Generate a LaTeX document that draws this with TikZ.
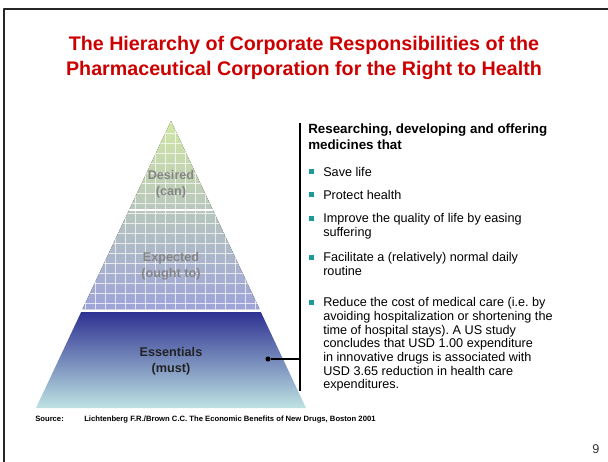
\documentclass[tikz,border=0pt]{standalone}
\usepackage{fontspec}
\setmainfont{Liberation Sans}
\usepackage{tikz}
\usetikzlibrary{calc,positioning}
\definecolor{hiered}{HTML}{CC0000}
\definecolor{hielime}{HTML}{CCE597}
\definecolor{hieteal}{HTML}{8CD2C8}
\definecolor{hieperi}{HTML}{9097D5}
\definecolor{esstop}{HTML}{2E3192}
\definecolor{essmid}{HTML}{7E92C4}
\definecolor{essbot}{HTML}{BEE3E3}
\definecolor{bulteal}{HTML}{1A9A9A}
\definecolor{hieink}{HTML}{222222}
\newcommand\sqbul{\llap{\textcolor{bulteal}{\rule[1.6pt]{3.2pt}{3.2pt}}\hspace{6.9pt}}}
\frenchspacing

\begin{document}
\begin{tikzpicture}[x=0.025cm,y=-0.025cm,line join=round,
  dot/.style={circle,inner sep=0pt,minimum size=3.6pt,fill=black},
  rule/.style={black,line width=.9pt},
  band/.style={font=\fontsize{9}{11.5}\selectfont\bfseries,align=center,inner sep=0pt},
  head/.style={anchor=base west,align=left,inner sep=0pt,font=\fontsize{9.5}{10.7}\selectfont\bfseries},
  itm/.style={anchor=base west,align=left,inner sep=0pt,font=\fontsize{9}{9.7}\selectfont},
  src/.style={anchor=base west,inner sep=0pt,font=\fontsize{5.45}{6}\selectfont\bfseries}]
\path[use as bounding box] (0,0) rectangle (608,462);
\fill[white] (0,0) rectangle (608,462);
\draw[black!85,line width=1.5pt] (4,462) -- (4,9) -- (608,9);

% title: anchored on the baseline of its last line
\node[font=\fontsize{14}{17.8}\selectfont\bfseries,text=hiered,align=center,anchor=base,inner sep=0pt] (title) at (304,75.7)
  {The Hierarchy of Corporate Responsibilities of the\\Pharmaceutical Corporation for the Right to Health};

% pyramid: apex and base corners
\coordinate (apex) at (171,121);
\coordinate (bl) at (36,408);
\coordinate (br) at (306,408);

% desired + expected, one gradient under a white grid
\begin{scope}
  \clip (apex) -- ($(apex)!.6551!(bl)$) -- ($(apex)!.6551!(br)$) -- cycle;
  \fill[top color=hielime,middle color=hieteal,bottom color=hieperi] (30,118) rectangle (312,310);
  \fill[white,opacity=.12] (30,118) rectangle (312,310);
  \foreach \gx in {35,45,...,305}
    \draw[white,line width=.55pt,opacity=.7] (\gx,118) -- (\gx,310);
  \foreach \gy in {123,133,...,303}
    \draw[white,line width=.55pt,opacity=.7] (30,\gy) -- (312,\gy);
  \fill[white] (30,208.6) rectangle (312,211.4);
\end{scope}

% essentials
\shade[top color=esstop,middle color=essmid,bottom color=essbot]
  ($(apex)!.6655!(bl)$) -- ($(apex)!.6655!(br)$) -- (br) -- (bl) -- cycle;

\node[band,text=black!48] (desired) at (171,184) {Desired\\(can)};
\node[band,text=black!48] (expected) at (171,266) {Expected\\(ought to)};
\node[band,text=hieink] (essentials) at (171,361) {Essentials\\(must)};

% bracket to the list
\coordinate (vtop) at (300,123);
\coordinate (vbot) at (300,391);
\draw[rule] (vtop) -- (vbot);
\node[dot] (essdot) at (268,359) {};
\coordinate (tie) at (300,359);
\draw[rule] (essdot) -- (tie);

% list nodes sit on the baseline of their last line
\node[head] (lead) at (308,149) {Researching, developing and offering\\medicines that};
\node[itm] (b1) at (323,176) {\sqbul Save life};
\node[itm] (b2) at (323,199) {\sqbul Protect health};
\node[itm] (b3) at (323,236.6) {\sqbul Improve the quality of life by easing\\suffering};
\node[itm] (b4) at (323,275.6) {\sqbul Facilitate a (relatively) normal daily\\routine};
\node[itm] (b5) at (323,388.8) {\sqbul Reduce the cost of medical care (i.e. by\\avoiding hospitalization or shortening the\\time of hospital stays). A US study\\concludes that USD 1.00 expenditure\\in innovative drugs is associated with\\USD 3.65 reduction in health care\\expenditures.};

\node[src] (srclbl) at (35,421) {Source:};
\node[src] (srctxt) at (84,421) {Lichtenberg F.R./Brown C.C. The Economic Benefits of New Drugs, Boston 2001};
\node[font=\fontsize{9}{10}\selectfont,text=black!80] (pgno) at (596,449) {9};
\end{tikzpicture}
\end{document}
